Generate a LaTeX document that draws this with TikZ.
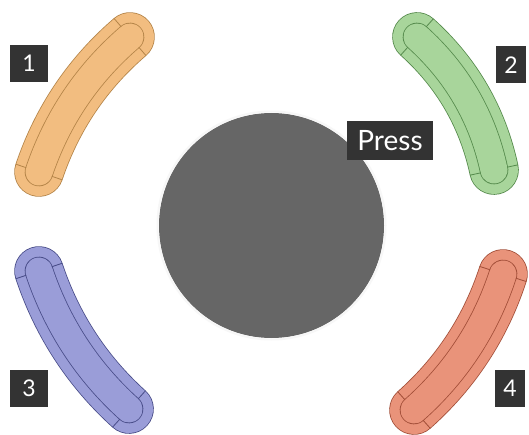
\documentclass[tikz,border=0pt]{standalone}
\usepackage{fontspec}
\setmainfont{Lato}
\usetikzlibrary{calc}
\definecolor{orfill}{HTML}{F2BD80}
\definecolor{orline}{HTML}{B48448}
\definecolor{grfill}{HTML}{A8D59B}
\definecolor{grline}{HTML}{558A4C}
\definecolor{blfill}{HTML}{9A9DD8}
\definecolor{blline}{HTML}{484C88}
\definecolor{rdfill}{HTML}{E9937A}
\definecolor{rdline}{HTML}{A24E38}
\definecolor{circgray}{HTML}{666666}
\definecolor{boxgray}{HTML}{333333}
\newcommand\drawbanana[5]{%
  \draw[line width=49.6pt, draw=#5, line cap=round] (#1) .. controls ($(#1)!0.6667!(#2)$) and ($(#3)!0.6667!(#2)$) .. (#3);
  \draw[line width=48pt, draw=#4, line cap=round] (#1) .. controls ($(#1)!0.6667!(#2)$) and ($(#3)!0.6667!(#2)$) .. (#3);
  \draw[line width=28.6pt, draw=#5, line cap=round] (#1) .. controls ($(#1)!0.6667!(#2)$) and ($(#3)!0.6667!(#2)$) .. (#3);
  \draw[line width=27pt, draw=#4, line cap=round] (#1) .. controls ($(#1)!0.6667!(#2)$) and ($(#3)!0.6667!(#2)$) .. (#3);
  \draw[#5, line width=0.8pt] ($(#1)!13.5pt!90:(#2)$) -- ($(#1)!24.5pt!90:(#2)$);
  \draw[#5, line width=0.8pt] ($(#1)!13.5pt!-90:(#2)$) -- ($(#1)!24.5pt!-90:(#2)$);
  \draw[#5, line width=0.8pt] ($(#3)!13.5pt!90:(#2)$) -- ($(#3)!24.5pt!90:(#2)$);
  \draw[#5, line width=0.8pt] ($(#3)!13.5pt!-90:(#2)$) -- ($(#3)!24.5pt!-90:(#2)$);
}
\tikzset{
  numbox/.style={fill=boxgray, text=white, inner sep=0pt, minimum height=37pt,
    font=\fontsize{23}{23}\selectfont},
  pressbox/.style={fill=boxgray, text=white, inner sep=0pt, minimum width=86pt,
    minimum height=39pt, font=\fontsize{28}{28}\selectfont}
}
\begin{document}
\begin{tikzpicture}[x=1pt,y=1pt]
\useasboundingbox (0,0) rectangle (529,434);
\fill[white] (0,0) rectangle (529,434);
% banana coordinates
\coordinate (a1) at (130,397); \coordinate (p1) at (66,342); \coordinate (b1) at (39,262);
\coordinate (a2) at (417,397); \coordinate (p2) at (477,343); \coordinate (b2) at (494,264);
\coordinate (a3) at (39,163); \coordinate (p3) at (66,82); \coordinate (b3) at (129,25);
\coordinate (a4) at (503,160); \coordinate (p4) at (477,80); \coordinate (b4) at (414,24);
\drawbanana{a1}{p1}{b1}{orfill}{orline}
\drawbanana{a2}{p2}{b2}{grfill}{grline}
\drawbanana{a3}{p3}{b3}{blfill}{blline}
\drawbanana{a4}{p4}{b4}{rdfill}{rdline}
% central button
\node[circle, fill=circgray, minimum size=225pt, inner sep=0pt] (btn) at (271.5,208.5) {};
\draw[black!3, line width=2pt] (btn.center) circle (114pt);
\node[pressbox] (press) at (390,293.5) {Press};
% number labels
\node[numbox, minimum width=38pt] (n1) at (29,370.5) {1};
\node[numbox, minimum width=30pt] (n2) at (511,369) {2};
\node[numbox, minimum width=38pt] (n3) at (29,45.5) {3};
\node[numbox, minimum width=30pt] (n4) at (510,45.5) {4};
\end{tikzpicture}
\end{document}
